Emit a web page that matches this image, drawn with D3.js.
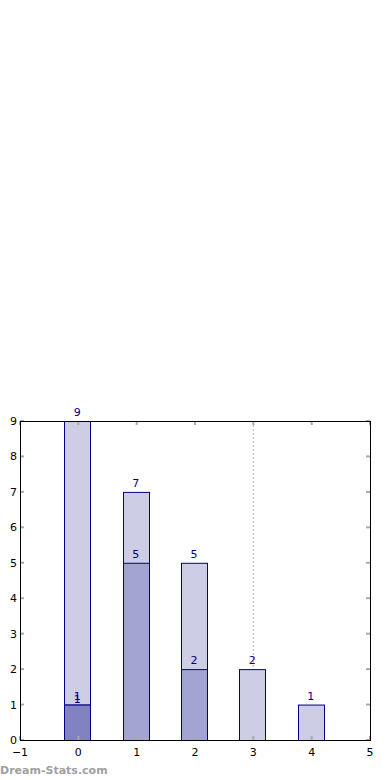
<!DOCTYPE html>
<html><head><meta charset="utf-8">
<script src="https://cdn.jsdelivr.net/npm/d3@7"></script>
<style>body{margin:0;background:#fff}svg{display:block}</style>
</head><body>
<script>
const categories = [0, 1, 2, 3, 4];
const totalValues = [9, 7, 5, 2, 1];
const seriesA = [1, 5, 2, 0, 0];
const seriesB = [1, 0, 0, 0, 0];
const xTicks = [-1, 0, 1, 2, 3, 4, 5];
const yTicks = [0, 1, 2, 3, 4, 5, 6, 7, 8, 9];
const markerX = 3;

const W = 390, H = 780;
const svg = d3.select("body").append("svg").attr("width", W).attr("height", H);
const m = {left: 20, right: 370, top: 421, bottom: 740};
const x = d3.scaleLinear().domain([-1, 5]).range([m.left, m.right]);
const y = d3.scaleLinear().domain([0, 9]).range([m.bottom, m.top]);
const bw = 0.45;
const font = "DejaVu Sans, sans-serif";

// dotted marker line
svg.append("line").attr("x1", x(markerX)).attr("x2", x(markerX))
  .attr("y1", m.top).attr("y2", m.bottom)
  .attr("stroke", "#c8c8c8").attr("stroke-width", 1.5).attr("stroke-dasharray", "2,2");

function drawBars(vals, fill) {
  svg.append("g").selectAll("rect").data(categories.filter((c, i) => vals[i] > 0))
    .join("rect")
    .attr("x", d => Math.round(x(d - bw / 2)) - 0.5)
    .attr("width", d => Math.round(x(bw) - x(0)))
    .attr("y", d => y(vals[categories.indexOf(d)]) + 0.5)
    .attr("height", d => y(0) - y(vals[categories.indexOf(d)]))
    .attr("fill", fill).attr("stroke", "#000080").attr("stroke-width", 1);
}
drawBars(totalValues, "#cdcde6");
drawBars(seriesA, "#a3a3d1");
drawBars(seriesB, "#8282c2");

// tick marks (grey, inside)
const tg = svg.append("g").attr("stroke", "#aaaaaa").attr("stroke-width", 2);
xTicks.forEach(t => {
  tg.append("line").attr("x1", x(t)).attr("x2", x(t)).attr("y1", m.bottom).attr("y2", m.bottom - 4);
  tg.append("line").attr("x1", x(t)).attr("x2", x(t)).attr("y1", m.top).attr("y2", m.top + 4);
});
yTicks.forEach(t => {
  tg.append("line").attr("x1", m.left).attr("x2", m.left + 4).attr("y1", y(t)).attr("y2", y(t));
  tg.append("line").attr("x1", m.right).attr("x2", m.right - 4).attr("y1", y(t)).attr("y2", y(t));
});

// frame
svg.append("rect").attr("x", m.left + 0.5).attr("y", m.top + 0.5)
  .attr("width", m.right - m.left).attr("height", m.bottom - m.top)
  .attr("fill", "none").attr("stroke", "#000").attr("stroke-width", 1);

// axis labels
svg.append("g").selectAll("text").data(xTicks).join("text")
  .attr("x", d => x(d)).attr("y", m.bottom + 16)
  .attr("text-anchor", "middle").attr("font-family", font).attr("font-size", 11).attr("fill", "#000")
  .text(d => d < 0 ? "\u2212" + Math.abs(d) : d);
svg.append("g").selectAll("text").data(yTicks).join("text")
  .attr("x", m.left - 3).attr("y", d => y(d) + 4)
  .attr("text-anchor", "end").attr("font-family", font).attr("font-size", 11).attr("fill", "#000")
  .text(d => d);

// value labels
function labels(vals, dy) {
  svg.append("g").selectAll("text").data(categories.filter((c, i) => vals[i] > 0)).join("text")
    .attr("x", d => x(d) - 1).attr("y", d => y(vals[categories.indexOf(d)]) - 5 + dy)
    .attr("text-anchor", "middle").attr("font-family", font).attr("font-size", 11).attr("fill", "#000080")
    .text(d => vals[categories.indexOf(d)]);
}
labels(totalValues, 0);
labels(seriesA, 0);
labels(seriesB, 3);

// watermark
svg.append("text").attr("x", 0).attr("y", 774).attr("font-family", font)
  .attr("font-size", 11).attr("font-weight", "bold").attr("fill", "#a0a0a0").text("Dream-Stats.com");
</script>
</body></html>
